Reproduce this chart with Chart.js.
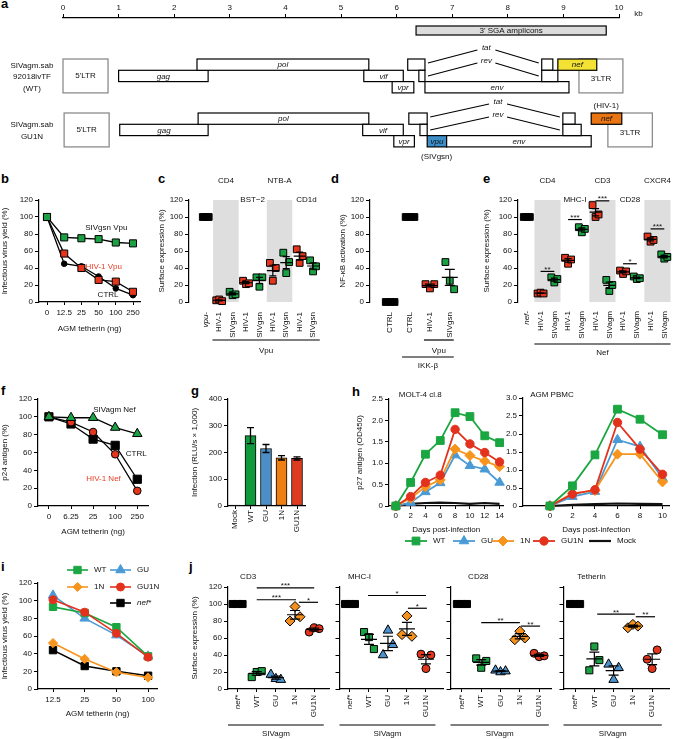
<!DOCTYPE html>
<html>
<head>
<meta charset="utf-8">
<title>SIVagm Vpu / Nef panels</title>
<script src="https://cdn.jsdelivr.net/npm/chart.js@4.4.1/dist/chart.umd.min.js"></script>
<style>
  html, body { margin: 0; padding: 0; background: #fff; }
  body { position: relative; width: 676px; height: 739px; overflow: hidden; font-family: 'Liberation Sans', Arial, sans-serif; }
  canvas { position: absolute; }
  .tag { position: absolute; font-weight: bold; font-size: 13px; line-height: 13px; color: #000; }
</style>
</head>
<body>
<div class="tag" style="left:1px;top:-3px">a</div>
<div class="tag" style="left:1px;top:172px">b</div>
<div class="tag" style="left:158px;top:172px">c</div>
<div class="tag" style="left:331px;top:172px">d</div>
<div class="tag" style="left:483px;top:172px">e</div>
<div class="tag" style="left:1px;top:384px">f</div>
<div class="tag" style="left:191px;top:384px">g</div>
<div class="tag" style="left:352px;top:385px">h</div>
<div class="tag" style="left:1px;top:560px">i</div>
<div class="tag" style="left:189px;top:560px">j</div>
<script>
// ---------- data ----------
// a: genome maps, kb  [name, start, end, reading frame]
const kbTicks = [0, 1, 2, 3, 4, 5, 6, 7, 8, 9, 10];
const amplicon = [6.35, 9.77];
const wtGenes = [['gag', 1.0, 2.61, 1], ['pol', 2.41, 5.5, 0], ['vif', 5.41, 6.12, 1], ['vpr', 5.92, 6.31, 2],
  ['', 6.2, 6.51, 0], ['', 6.4, 6.51, 1], ['env', 6.51, 9.1, 2], ['', 8.61, 8.81, 0], ['', 8.61, 8.9, 1], ['nef', 8.9, 9.6, 0]];
const wtLTR = [[0, 0.81], [9.28, 10.07]];
const wtSplice = [['tat', 6.51, 8.61, 0], ['rev', 6.51, 8.61, 1]];
const guGenes = [['gag', 1.02, 2.61, 1], ['pol', 2.43, 5.5, 0], ['vif', 5.39, 6.12, 1], ['vpr', 5.95, 6.32, 2],
  ['', 6.22, 6.55, 0], ['', 6.42, 6.55, 1], ['vpu', 6.55, 6.9, 2], ['env', 6.9, 9.5, 2], ['', 8.99, 9.21, 0], ['', 8.99, 9.32, 1], ['nef', 9.5, 10.05, 0]];
const guLTR = [[0.02, 0.83], [9.8, 10.6]];
const guSplice = [['tat', 6.55, 8.99, 0], ['rev', 6.55, 8.99, 1]];

// b
const bDoses = ['0', '12.5', '25', '50', '100', '250'];
const bSIVgsnVpu = [100, 76, 75, 74, 70, 69];
const bHIV1Vpu = [100, 57, 40, 26, 24, 12];
const bCtrl = [100, 45, 42, 30, 16, 8];

// c
const cCats = ['vpu-', 'HIV-1', 'SIVgsn', 'HIV-1', 'SIVgsn', 'HIV-1', 'SIVgsn', 'HIV-1', 'SIVgsn'];
const cReps = [[100, 100, 100], [2, 3, 1], [12, 8, 9], [25, 21, 22], [29, 18, 29], [46, 25, 40], [58, 34, 47], [62, 46, 54], [49, 36, 42]];
const cTargets = ['CD4', 'BST\u22122', 'NTB-A', 'CD1d'];

// d
const dCats = ['CTRL', 'CTRL', 'HIV-1', 'SIVgsn'];
const dReps = [[0, 0, 0], [100, 100, 100], [21, 16, 21], [47, 25, 15]];

// e
const eCats = ['nef-', 'HIV-1', 'SIVagm', 'HIV-1', 'SIVagm', 'HIV-1', 'SIVagm', 'HIV-1', 'SIVagm', 'HIV-1', 'SIVagm'];
const eReps = [[100, 100, 100], [10, 11, 10], [29, 23, 27], [52, 45, 50], [88, 82, 86], [114, 100, 103],
  [26, 13, 20], [37, 33, 36], [30, 27, 28], [77, 71, 73], [56, 51, 53]];
const eTargets = ['CD4', 'MHC-I', 'CD3', 'CD28', 'CXCR4'];
const eSig = [[1, 2, 36, '**'], [3, 4, 97, '***'], [5, 6, 119, '***'], [7, 8, 45, '*'], [9, 10, 86, '***']];

// f
const fDoses = ['0', '6.25', '25', '100', '250'];
const fSIVagmNef = [100, 99, 99, 88, 81];
const fCtrl = [100, 92, 75, 68, 30];
const fHIV1Nef = [100, 94, 83, 58, 17];

// g
const gCats = ['Mock', 'WT', 'GU', '1N', 'GU1N'];
const gMean = [3, 263, 215, 180, 178];
const gErr = [0, 30, 15, 8, 6];

// h
const hDaysMolt = [0, 2, 4, 6, 8, 10, 12, 14];
const hMoltWT = [0, 0.55, 1.21, 1.53, 2.18, 2.09, 1.64, 1.48];
const hMoltGU = [0, 0.08, 0.33, 0.54, 1.19, 0.94, 0.86, 0.55];
const hMolt1N = [0, 0.18, 0.45, 0.61, 1.33, 1.18, 1.05, 0.92];
const hMoltGU1N = [0, 0.22, 0.55, 0.72, 1.79, 1.45, 1.25, 1.03];
const hMoltMock = [0, 0.05, 0.07, 0.08, 0.07, 0.05, 0.07, 0.05];
const hDaysPbmc = [0, 2, 4, 6, 8, 10];
const hPbmcWT = [0, 0.56, 1.42, 2.69, 2.41, 1.98];
const hPbmcGU = [0, 0.26, 0.4, 1.84, 1.65, 0.77];
const hPbmc1N = [0, 0.35, 0.43, 1.44, 1.44, 0.67];
const hPbmcGU1N = [0, 0.33, 0.45, 2.32, 1.58, 0.88];
const hPbmcMock = [0, 0.03, 0.05, 0.07, 0.06, 0.05];

// i
const iDoses = ['12.5', '25', '50', '100'];
const iWT = [93, 86, 70, 37];
const iGU = [106, 80, 61, 37];
const i1N = [52, 34, 19, 13];
const iGU1N = [101, 87, 63, 36];
const iNefStar = [44, 26, 20, 15];

// j
const jCats = ['nef*', 'WT', 'GU', '1N', 'GU1N'];
const jCD3 = [[100, 100, 100], [14, 20, 21], [17, 12, 11], [80, 97, 85], [67, 72, 71]];
const jMHCI = [[100, 100, 100], [67, 61, 47], [40, 69, 52], [64, 86, 62], [41, 24, 40]];
const jCD28 = [[100, 100, 100], [36, 25, 33], [22, 20, 21], [58, 68, 60], [42, 38, 39]];
const jTetherin = [[100, 100, 100], [22, 50, 34], [29, 11, 25], [72, 76, 74], [35, 24, 46]];
const jSig = [
  [[1, 4, 119, '***'], [1, 3.05, 105, '***'], [3.2, 4.2, 102, '*']],
  [[0.95, 4, 110, '*'], [3.05, 4.05, 95, '*']],
  [[1, 3, 78, '**'], [3.05, 4.05, 74, '**']],
  [[1.15, 3.1, 88, '**'], [3.15, 4.15, 85, '**']]
];

// ---------- style ----------
const FONT = "'Liberation Sans', Arial, Helvetica, sans-serif";
const GREEN = '#1ba143', RED = '#e3361d', BLUE = '#4b93cf', ORANGE = '#f4901d';
const G_FILL = ['#111', '#109a3b', '#4b8fc8', '#ef7f12', '#de3a1f'];
Chart.defaults.font.family = FONT;
Chart.defaults.font.size = 8;
Chart.defaults.color = '#111';

const idx = n => Array.from({length: n}, (_, i) => i);
const span = (c0, sp, l, r) => [(l - c0) / sp, (r - c0) / sp];

function place(box, plot) {
  const c = document.createElement('canvas');
  const w = box.r - box.l, h = box.b - box.t;
  c.width = w; c.height = h;
  c.style.left = box.l + 'px'; c.style.top = box.t + 'px';
  c.style.width = w + 'px'; c.style.height = h + 'px';
  document.body.appendChild(c);
  return {el: c, box, yW: plot.l - box.l, xH: box.b - plot.b,
    layout: {padding: {left: 0, top: plot.t - box.t, right: box.r - plot.r, bottom: 0}}};
}

function base(f) {
  return {responsive: false, animation: false, devicePixelRatio: 1, events: [], layout: f.layout,
    plugins: {legend: {display: false}, tooltip: {enabled: false}}};
}

function yAxis(min, max, step, w, o = {}) {
  return {
    type: 'linear', min, max, bounds: 'data', position: 'left',
    afterBuildTicks: s => { const t = []; for (let v = min; v <= max + 1e-9; v += step) t.push({value: Math.round(v * 1000) / 1000}); s.ticks = t; },
    afterFit: s => { s.width = w; s.paddingTop = 0; s.paddingBottom = 0; },
    ticks: {display: o.labels !== false, padding: 2, callback: o.fmt || (v => String(v))},
    grid: {drawOnChartArea: false, color: '#000', tickLength: 4, lineWidth: 1},
    border: {color: '#000', width: 1.2},
    title: {display: !!o.title, text: o.title || '', padding: {top: 0, bottom: 0}}
  };
}

function xAxis(min, max, h, o) {
  const line = o.line !== false;
  return {
    type: 'linear', min, max, bounds: 'data', offset: false, position: 'bottom',
    afterBuildTicks: s => { s.ticks = o.ticks.map(v => ({value: v})); },
    afterFit: s => { s.height = h; s.paddingLeft = 0; s.paddingRight = 0; },
    ticks: {
      autoSkip: false, padding: o.pad ?? 2, minRotation: o.rot || 0, maxRotation: o.rot || 0,
      callback: o.fmt || (v => String(v)),
      font: o.italic0 ? (c => ({size: 8, style: c.index === 0 ? 'italic' : 'normal'})) : {size: 8}
    },
    grid: {drawOnChartArea: false, display: line, drawTicks: line, offset: false, color: '#000', tickLength: 3, lineWidth: 1},
    border: {display: line, color: '#000', width: 1.2},
    title: {display: !!o.title, text: o.title || '', padding: {top: 0, bottom: o.tpad || 0}}
  };
}

function lineSet(label, xs, vals, st) {
  return {
    label, data: vals.map((v, i) => ({x: xs[i], y: v})),
    borderColor: st.line || '#000', borderWidth: st.lw ?? 1.3, tension: 0, fill: false, clip: false,
    pointStyle: st.shape || 'circle', pointRadius: st.r ?? 0,
    pointBackgroundColor: st.fill || '#000', pointBorderColor: st.edge ?? '#000', pointBorderWidth: st.ew ?? 1,
    order: st.order ?? 0, italicLabel: !!st.it
  };
}

function dotSets(cats, reps, styleFn, jit) {
  const sets = new Map();
  cats.forEach((c, i) => {
    const st = styleFn(c);
    if (!sets.has(st)) sets.set(st, []);
    reps[i].forEach((v, k) => sets.get(st).push({x: i + jit[k], y: v}));
  });
  return [...sets].map(([st, pts]) => ({data: pts, pointStyle: st.shape, pointRadius: st.r,
    pointBackgroundColor: st.fill, pointBorderColor: '#000', pointBorderWidth: 1, clip: false}));
}

function mark(ctx, style, x, y, r, fill, edge, lw) {
  ctx.beginPath();
  if (style === 'rect') { const s = r * Math.SQRT1_2; ctx.rect(x - s, y - s, 2 * s, 2 * s); }
  else if (style === 'triangle') {
    for (let k = 0; k < 3; k++) { const a = k * 2 * Math.PI / 3; const px = x + Math.sin(a) * r, py = y - Math.cos(a) * r; k ? ctx.lineTo(px, py) : ctx.moveTo(px, py); }
    ctx.closePath();
  } else if (style === 'rectRot') { ctx.moveTo(x, y - r); ctx.lineTo(x + r, y); ctx.lineTo(x, y + r); ctx.lineTo(x - r, y); ctx.closePath(); }
  else ctx.arc(x, y, r, 0, Math.PI * 2);
  ctx.fillStyle = fill; ctx.fill();
  if (lw) { ctx.lineWidth = lw; ctx.strokeStyle = edge; ctx.stroke(); }
}

// bands, mean ± SEM, significance, notes, groups under axis, legends
function deco(cfg, box) {
  return {
    id: 'deco',
    beforeDatasetsDraw(chart) {
      const {ctx, chartArea: ca, scales: {x}} = chart;
      ctx.save();
      ctx.fillStyle = '#dedede';
      (cfg.bands || []).forEach(([a, b]) => {
        const xa = x.getPixelForValue(a), xb = x.getPixelForValue(b);
        ctx.fillRect(xa, ca.top, xb - xa, ca.bottom - ca.top);
      });
      ctx.restore();
    },
    afterDatasetsDraw(chart) {
      const {ctx, chartArea: ca, scales: {x, y}} = chart;
      const X = v => x.getPixelForValue(v), Y = v => y.getPixelForValue(v);
      ctx.save();
      ctx.strokeStyle = '#000'; ctx.fillStyle = '#111'; ctx.lineWidth = 1.2;
      (cfg.stats || []).forEach((vals, i) => {
        const n = vals.length, m = vals.reduce((s, v) => s + v, 0) / n;
        const se = Math.sqrt(vals.reduce((s, v) => s + (v - m) ** 2, 0) / (n - 1) / n);
        const px = X(i);
        ctx.beginPath();
        ctx.moveTo(px - cfg.mw, Y(m)); ctx.lineTo(px + cfg.mw, Y(m));
        ctx.moveTo(px, Y(m - se)); ctx.lineTo(px, Y(m + se));
        ctx.moveTo(px - cfg.cw, Y(m - se)); ctx.lineTo(px + cfg.cw, Y(m - se));
        ctx.moveTo(px - cfg.cw, Y(m + se)); ctx.lineTo(px + cfg.cw, Y(m + se));
        ctx.stroke();
      });
      ctx.lineWidth = 1.3;
      (cfg.errs || []).forEach(([i, v, e]) => {
        if (!e) return;
        const px = X(i);
        ctx.beginPath();
        ctx.moveTo(px, Y(v - e)); ctx.lineTo(px, Y(v + e));
        ctx.moveTo(px - 3.5, Y(v - e)); ctx.lineTo(px + 3.5, Y(v - e));
        ctx.moveTo(px - 3.5, Y(v + e)); ctx.lineTo(px + 3.5, Y(v + e));
        ctx.stroke();
      });
      ctx.lineWidth = 1.2;
      ctx.font = '8px ' + FONT; ctx.textAlign = 'center'; ctx.textBaseline = 'alphabetic';
      (cfg.sig || []).forEach(([a, b, v, t]) => {
        ctx.beginPath(); ctx.moveTo(X(a), Y(v)); ctx.lineTo(X(b), Y(v)); ctx.stroke();
        ctx.fillText(t, (X(a) + X(b)) / 2, Y(v) + 0.5);
      });
      ctx.textBaseline = 'middle';
      (cfg.groups || []).forEach(([a, b, dl, t, dt]) => {
        ctx.beginPath(); ctx.moveTo(X(a), ca.bottom + dl); ctx.lineTo(X(b), ca.bottom + dl); ctx.stroke();
        ctx.fillText(t, (X(a) + X(b)) / 2, ca.bottom + dt);
      });
      (cfg.notes || []).forEach(n => {
        ctx.font = (n.it ? 'italic ' : '') + '8px ' + FONT;
        ctx.fillStyle = n.c || '#111';
        ctx.textAlign = n.a || 'center';
        ctx.fillText(n.t, X(n.x), n.dy != null ? ca.top + n.dy : Y(n.y));
      });
      if (cfg.legend) {
        const L = cfg.legend;
        chart.data.datasets.forEach((ds, i) => {
          const lx = L.at[i][0] - box.l, ly = L.at[i][1] - box.t;
          ctx.strokeStyle = ds.borderColor; ctx.lineWidth = ds.borderWidth;
          ctx.beginPath(); ctx.moveTo(lx, ly); ctx.lineTo(lx + L.len, ly); ctx.stroke();
          if (ds.pointRadius) mark(ctx, ds.pointStyle, lx + L.len / 2, ly, ds.pointRadius, ds.pointBackgroundColor, ds.pointBorderColor, ds.pointBorderWidth);
          ctx.fillStyle = '#111'; ctx.font = (ds.italicLabel ? 'italic ' : '') + '8px ' + FONT;
          ctx.textAlign = 'left'; ctx.textBaseline = 'middle';
          ctx.fillText(ds.label, lx + L.len + L.gap, ly);
        });
      }
      ctx.restore();
    }
  };
}

// ---------- a: genome maps ----------
(function () {
  const FH = 11.3;
  const rows = [
    {top: 59, genes: wtGenes, ltr: wtLTR, splice: wtSplice, fills: {nef: '#f3e233'}, name: ['SIVagm.sab', '92018ivTF', '(WT)'], notes: []},
    {top: 113, genes: guGenes, ltr: guLTR, splice: guSplice, fills: {nef: '#e97512', vpu: '#3b8ec8'}, name: ['SIVagm.sab', 'GU1N'],
      notes: [['(SIVgsn)', 6.72, 44], ['(HIV-1)', 9.77, -7]]}
  ];
  const genomePlugin = {
    id: 'genome',
    afterDraw(chart) {
      const {ctx, chartArea: ca, scales: {x}} = chart;
      const X = v => x.getPixelForValue(v);
      ctx.save();
      ctx.textAlign = 'center'; ctx.textBaseline = 'middle';
      ctx.font = '8px ' + FONT; ctx.fillStyle = '#111';
      ctx.fillText('kb', X(10.35), ca.top - 4);
      const a0 = X(amplicon[0]), a1 = X(amplicon[1]);
      ctx.fillStyle = '#dcdcdc'; ctx.strokeStyle = '#000'; ctx.lineWidth = 1.2;
      ctx.fillRect(a0, ca.top + 8, a1 - a0, 9); ctx.strokeRect(a0, ca.top + 8, a1 - a0, 9);
      ctx.fillStyle = '#111'; ctx.fillText("3' SGA amplicons", (a0 + a1) / 2, ca.top + 12.5);
      rows.forEach(g => {
        const top = g.top;
        ctx.font = '8px ' + FONT; ctx.fillStyle = '#111';
        g.name.forEach((s, i) => ctx.fillText(s, X(0) - 31, top + 1.5 * FH + 1 + (i - (g.name.length - 1) / 2) * 11.5));
        g.ltr.forEach(([a, b], i) => {
          ctx.fillStyle = '#fff'; ctx.fillRect(X(a), top, X(b) - X(a), 3 * FH);
          ctx.strokeStyle = '#8c8c8c'; ctx.lineWidth = 1.3; ctx.strokeRect(X(a), top, X(b) - X(a), 3 * FH);
          ctx.fillStyle = '#111'; ctx.font = '8px ' + FONT;
          ctx.fillText(i === 0 ? "5'LTR" : "3'LTR", (X(a) + X(b)) / 2, top + (i === 0 ? 17 : 20));
        });
        g.genes.forEach(([nm, a, b, fr]) => {
          const yy = top + fr * FH;
          ctx.fillStyle = g.fills[nm] || '#fff';
          ctx.fillRect(X(a), yy, X(b) - X(a), FH);
          ctx.strokeStyle = '#000'; ctx.lineWidth = 1.2;
          ctx.strokeRect(X(a), yy, X(b) - X(a), FH);
          if (nm) { ctx.fillStyle = '#111'; ctx.font = 'italic 8px ' + FONT; ctx.fillText(nm, (X(a) + X(b)) / 2, yy + FH / 2 + 0.5); }
        });
        g.splice.forEach(([nm, a, b, fr]) => {
          const mid = (X(a) + X(b)) / 2 + 3, ly = top - 11 + fr * 13;
          ctx.strokeStyle = '#000'; ctx.lineWidth = 1.2;
          ctx.beginPath();
          ctx.moveTo(X(a) + 3, ly + 15); ctx.lineTo(mid - 9, ly + 2);
          ctx.moveTo(mid + 9, ly + 2); ctx.lineTo(X(b) - 3, ly + 15);
          ctx.stroke();
          ctx.fillStyle = '#111'; ctx.font = 'italic 8px ' + FONT; ctx.fillText(nm, mid, ly);
        });
        ctx.font = '8px ' + FONT; ctx.fillStyle = '#111';
        g.notes.forEach(([t, kb, dy]) => ctx.fillText(t, X(kb), top + dy));
      });
      ctx.restore();
    }
  };
  const c = document.createElement('canvas');
  c.width = 676; c.height = 170;
  c.style.left = '0px'; c.style.top = '0px'; c.style.width = '676px'; c.style.height = '170px';
  document.body.appendChild(c);
  new Chart(c, {
    type: 'scatter',
    data: {datasets: []},
    options: {
      responsive: false, animation: false, devicePixelRatio: 1, events: [],
      layout: {padding: {left: 63, right: 57, top: 0, bottom: 0}},
      plugins: {legend: {display: false}, tooltip: {enabled: false}},
      scales: {
        x: {type: 'linear', position: 'top', min: 0, max: 10, bounds: 'data',
          afterBuildTicks: s => { s.ticks = kbTicks.map(v => ({value: v})); },
          afterFit: s => { s.height = 18; s.paddingLeft = 0; s.paddingRight = 0; },
          ticks: {padding: 1},
          grid: {drawOnChartArea: false, color: '#000', tickLength: 4},
          border: {color: '#000', width: 1.3}},
        y: {display: false, min: 18, max: 170, reverse: true}
      }
    },
    plugins: [genomePlugin]
  });
})();

// ---------- b ----------
(function () {
  const f = place({l: 0, t: 190, r: 150, b: 334}, {l: 39, t: 200, r: 140, b: 302});
  const [mn, mx] = span(47, 17.2, 39, 140);
  const xs = idx(bDoses.length);
  new Chart(f.el, {
    type: 'line',
    data: {datasets: [
      lineSet('SIVgsn Vpu', xs, bSIVgsnVpu, {shape: 'rect', r: 5, fill: GREEN}),
      lineSet('HIV-1 Vpu', xs, bHIV1Vpu, {shape: 'rect', r: 5, fill: RED}),
      lineSet('CTRL', xs, bCtrl, {shape: 'circle', r: 2.8, fill: '#000'})
    ]},
    options: {...base(f), scales: {
      x: xAxis(mn, mx, f.xH, {ticks: xs, fmt: v => bDoses[v], pad: 3, title: 'AGM tetherin (ng)'}),
      y: yAxis(0, 120, 20, f.yW, {title: 'Infectious virus yield (%)'})
    }},
    plugins: [deco({notes: [
      {t: 'SIVgsn Vpu', x: 3.45, y: 87},
      {t: 'HIV-1 Vpu', x: 3.3, y: 41, c: '#e8402a'},
      {t: 'CTRL', x: 3.55, y: 8}
    ]})]
  });
})();

// ---------- c ----------
const DOT = {
  ctrl: {shape: 'rect', r: 4.8, fill: '#000'},
  hiv: {shape: 'rect', r: 4.8, fill: RED},
  siv: {shape: 'rect', r: 4.8, fill: GREEN}
};
const dotStyle = c => c === 'HIV-1' ? DOT.hiv : (c.startsWith('SIV') ? DOT.siv : DOT.ctrl);
(function () {
  const f = place({l: 157, t: 172, r: 324, b: 362}, {l: 189, t: 200, r: 320, b: 302});
  const [mn, mx] = span(206, 13.6, 189, 320);
  new Chart(f.el, {
    type: 'scatter',
    data: {datasets: dotSets(cCats, cReps, dotStyle, [-0.22, 0, 0.22])},
    options: {...base(f), scales: {
      x: xAxis(mn, mx, f.xH, {ticks: idx(cCats.length), fmt: v => cCats[v], rot: 90, pad: 10, line: false, italic0: true}),
      y: yAxis(0, 120, 20, f.yW, {title: 'Surface expression (%)'})
    }},
    plugins: [deco({
      bands: [[0.55, 2.45], [4.55, 6.45]],
      stats: cReps, mw: 6, cw: 3.5,
      notes: cTargets.map((t, k) => ({t, x: 1.5 + 2 * k, dy: k % 2 ? 0 : -19})),
      groups: [[0.5, 8.5, 38, 'Vpu', 49]]
    })]
  });
})();

// ---------- d ----------
(function () {
  const f = place({l: 338, t: 172, r: 467, b: 375}, {l: 370, t: 200, r: 465, b: 302});
  const [mn, mx] = span(391, 20.7, 370, 465);
  new Chart(f.el, {
    type: 'scatter',
    data: {datasets: dotSets(dCats, dReps, dotStyle, [-0.22, 0, 0.22])},
    options: {...base(f), scales: {
      x: xAxis(mn, mx, f.xH, {ticks: idx(dCats.length), fmt: v => dCats[v], rot: 90, pad: 10, line: false}),
      y: yAxis(0, 120, 20, f.yW, {title: 'NF-\u03BAB activation (%)'})
    }},
    plugins: [deco({
      stats: dReps, mw: 8, cw: 5,
      groups: [[1.7, 3.2, 38, 'Vpu', 49], [0.6, 3.2, 55, 'IKK-\u03B2', 64]]
    })]
  });
})();

// ---------- e ----------
(function () {
  const f = place({l: 482, t: 172, r: 676, b: 362}, {l: 518, t: 200, r: 673, b: 302});
  const [mn, mx] = span(527, 14, 518, 673);
  new Chart(f.el, {
    type: 'scatter',
    data: {datasets: dotSets(eCats, eReps, dotStyle, [-0.22, 0, 0.22])},
    options: {...base(f), scales: {
      x: xAxis(mn, mx, f.xH, {ticks: idx(eCats.length), fmt: v => eCats[v], rot: 90, pad: 9, line: false, italic0: true}),
      y: yAxis(0, 120, 20, f.yW, {title: 'Surface expression (%)'})
    }},
    plugins: [deco({
      bands: [[0.55, 2.45], [4.55, 6.45], [8.55, 10.45]],
      stats: eReps, mw: 6, cw: 3.5, sig: eSig,
      notes: eTargets.map((t, k) => ({t, x: 1.5 + 2 * k, dy: k % 2 ? 0 : -19})),
      groups: [[0.55, 10.45, 42, 'Nef', 51]]
    })]
  });
})();

// ---------- f ----------
(function () {
  const f = place({l: 0, t: 390, r: 155, b: 537}, {l: 38, t: 399, r: 149, b: 506});
  const [mn, mx] = span(49, 22.25, 38, 149);
  const xs = idx(fDoses.length);
  new Chart(f.el, {
    type: 'line',
    data: {datasets: [
      lineSet('SIVagm Nef', xs, fSIVagmNef, {shape: 'triangle', r: 5.5, fill: GREEN}),
      lineSet('HIV-1 Nef', xs, fHIV1Nef, {shape: 'circle', r: 3.8, fill: RED}),
      lineSet('CTRL', xs, fCtrl, {shape: 'rect', r: 5.8, fill: '#000'})
    ]},
    options: {...base(f), scales: {
      x: xAxis(mn, mx, f.xH, {ticks: xs, fmt: v => fDoses[v], pad: 3, title: 'AGM tetherin (ng)'}),
      y: yAxis(0, 120, 20, f.yW, {title: 'p24 antigen (%)'})
    }},
    plugins: [deco({notes: [
      {t: 'SIVagm Nef', x: 2.97, y: 107.5},
      {t: 'CTRL', x: 3.95, y: 58},
      {t: 'HIV-1 Nef', x: 2.47, y: 31, c: '#e8402a'}
    ]})]
  });
})();

// ---------- g ----------
(function () {
  const f = place({l: 190, t: 390, r: 308, b: 535}, {l: 228, t: 399, r: 305, b: 506});
  const [mn, mx] = span(235, 15.5, 228, 305);
  new Chart(f.el, {
    type: 'bar',
    data: {datasets: [{data: gMean.map((v, i) => ({x: i, y: v})), backgroundColor: G_FILL,
      borderColor: '#000', borderWidth: 1, barThickness: 11, borderSkipped: false}]},
    options: {...base(f), scales: {
      x: xAxis(mn, mx, f.xH, {ticks: idx(gCats.length), fmt: v => gCats[v], rot: 90, pad: 1}),
      y: yAxis(0, 400, 100, f.yW, {title: 'Infection (RLU/s \u00D7 1,000)'})
    }},
    plugins: [deco({errs: gMean.map((v, i) => [i, v, gErr[i]])})]
  });
})();

// ---------- h ----------
const H_STY = {
  WT: {shape: 'rect', r: 5.5, fill: '#1aa640', line: '#1aa640', lw: 1.8, order: 0},
  GU: {shape: 'triangle', r: 5.5, fill: '#4a9ad6', line: '#4a9ad6', lw: 1.8, order: 3},
  '1N': {shape: 'rectRot', r: 5, fill: '#f7941d', line: '#f7941d', lw: 1.8, order: 2},
  GU1N: {shape: 'circle', r: 4.2, fill: '#e2321e', line: '#e2321e', lw: 1.8, order: 1},
  Mock: {r: 0, line: '#111', lw: 2.2, order: 4}
};
for (const k in H_STY) H_STY[k].edge = H_STY[k].fill;
const hFmt = v => v === 0 ? '0' : v.toFixed(1);
(function () {
  const f = place({l: 355, t: 390, r: 510, b: 535}, {l: 389, t: 399, r: 507, b: 506});
  const [mn, mx] = span(396, 7.64, 389, 507);
  new Chart(f.el, {
    type: 'line',
    data: {datasets: [
      lineSet('WT', hDaysMolt, hMoltWT, H_STY.WT),
      lineSet('GU', hDaysMolt, hMoltGU, H_STY.GU),
      lineSet('1N', hDaysMolt, hMolt1N, H_STY['1N']),
      lineSet('GU1N', hDaysMolt, hMoltGU1N, H_STY.GU1N),
      lineSet('Mock', hDaysMolt, hMoltMock, H_STY.Mock)
    ]},
    options: {...base(f), scales: {
      x: xAxis(mn, mx, f.xH, {ticks: hDaysMolt, pad: 2, title: 'Days post-infection'}),
      y: yAxis(0, 2.5, 0.5, f.yW, {title: 'p27 antigen (OD450)', fmt: hFmt})
    }},
    plugins: [deco({notes: [{t: 'MOLT-4 cl.8', x: 3.3, y: 2.59}]})]
  });
})();
(function () {
  const f = place({l: 380, t: 390, r: 676, b: 550}, {l: 523, t: 398, r: 670, b: 506});
  const [mn, mx] = span(550, 11.3, 523, 670);
  new Chart(f.el, {
    type: 'line',
    data: {datasets: [
      lineSet('WT', hDaysPbmc, hPbmcWT, H_STY.WT),
      lineSet('GU', hDaysPbmc, hPbmcGU, H_STY.GU),
      lineSet('1N', hDaysPbmc, hPbmc1N, H_STY['1N']),
      lineSet('GU1N', hDaysPbmc, hPbmcGU1N, H_STY.GU1N),
      lineSet('Mock', hDaysPbmc, hPbmcMock, H_STY.Mock)
    ]},
    options: {...base(f), scales: {
      x: xAxis(mn, mx, f.xH, {ticks: hDaysPbmc, pad: 2, title: 'Days post-infection', tpad: 15}),
      y: yAxis(0, 3, 0.5, f.yW, {fmt: hFmt})
    }},
    plugins: [deco({
      notes: [{t: 'AGM PBMC', x: 0.18, y: 3.08}],
      legend: {at: [[405, 541], [453, 541], [492, 541], [533, 541], [589, 541]], len: 22, gap: 6}
    }, f.box)]
  });
})();

// ---------- i ----------
(function () {
  const f = place({l: 0, t: 552, r: 165, b: 719}, {l: 38, t: 583, r: 157, b: 689});
  const [mn, mx] = span(53, 31.7, 38, 157);
  const xs = idx(iDoses.length);
  const st = (c, shape, r, order, it) => ({shape, r, fill: c, edge: c, line: c, lw: 1.6, order, it});
  new Chart(f.el, {
    type: 'line',
    data: {datasets: [
      lineSet('WT', xs, iWT, st('#1aa640', 'rect', 5.2, 1)),
      lineSet('GU', xs, iGU, st('#4a9ad6', 'triangle', 5.5, 2)),
      lineSet('1N', xs, i1N, st('#f7941d', 'rectRot', 4.6, 3)),
      lineSet('GU1N', xs, iGU1N, st('#e2321e', 'circle', 4, 0)),
      lineSet('nef*', xs, iNefStar, st('#000', 'rect', 5.2, 4, true))
    ]},
    options: {...base(f), scales: {
      x: xAxis(mn, mx, f.xH, {ticks: xs, fmt: v => iDoses[v], pad: 3, title: 'AGM tetherin (ng)'}),
      y: yAxis(0, 120, 20, f.yW, {title: 'Infectious virus yield (%)'})
    }},
    plugins: [deco({legend: {at: [[67, 570], [110, 570], [67, 587], [110, 587], [110, 603]], len: 21, gap: 6}}, f.box)]
  });
})();

// ---------- j ----------
const J_STY = {
  'nef*': {shape: 'rect', r: 5, fill: '#000'},
  WT: {shape: 'rect', r: 5, fill: GREEN},
  GU: {shape: 'triangle', r: 5.5, fill: BLUE},
  '1N': {shape: 'rectRot', r: 5, fill: ORANGE},
  GU1N: {shape: 'circle', r: 4, fill: RED}
};
const jPanels = [
  {name: 'CD3', reps: jCD3, bl: 190, br: 336, l: 228, r: 334, c0: 238, sp: 20, tx: 0.55},
  {name: 'MHC-I', reps: jMHCI, bl: 333, br: 450, l: 339, r: 448, c0: 350, sp: 19.9, tx: 0.5},
  {name: 'CD28', reps: jCD28, bl: 444, br: 558, l: 450, r: 556, c0: 462, sp: 20.25, tx: 0.85},
  {name: 'Tetherin', reps: jTetherin, bl: 557, br: 676, l: 563, r: 673, c0: 575, sp: 20, tx: 0.85}
];
jPanels.forEach((p, k) => {
  const f = place({l: p.bl, t: 565, r: p.br, b: 739}, {l: p.l, t: 587, r: p.r, b: 689});
  const [mn, mx] = span(p.c0, p.sp, p.l, p.r);
  new Chart(f.el, {
    type: 'scatter',
    data: {datasets: dotSets(jCats, p.reps, c => J_STY[c], [-0.26, 0, 0.26])},
    options: {...base(f), scales: {
      x: xAxis(mn, mx, f.xH, {ticks: idx(jCats.length), fmt: v => jCats[v], rot: 90, pad: 3, italic0: true}),
      y: yAxis(0, 120, 20, f.yW, {labels: k === 0, title: k === 0 ? 'Surface expression (%)' : ''})
    }},
    plugins: [deco({
      stats: p.reps, mw: 8, cw: 5, sig: jSig[k],
      groups: [[mn, 4.5, 36, 'SIVagm', 45]],
      notes: [{t: p.name, x: p.tx, dy: -10}]
    })]
  });
});
</script>
</body>
</html>
